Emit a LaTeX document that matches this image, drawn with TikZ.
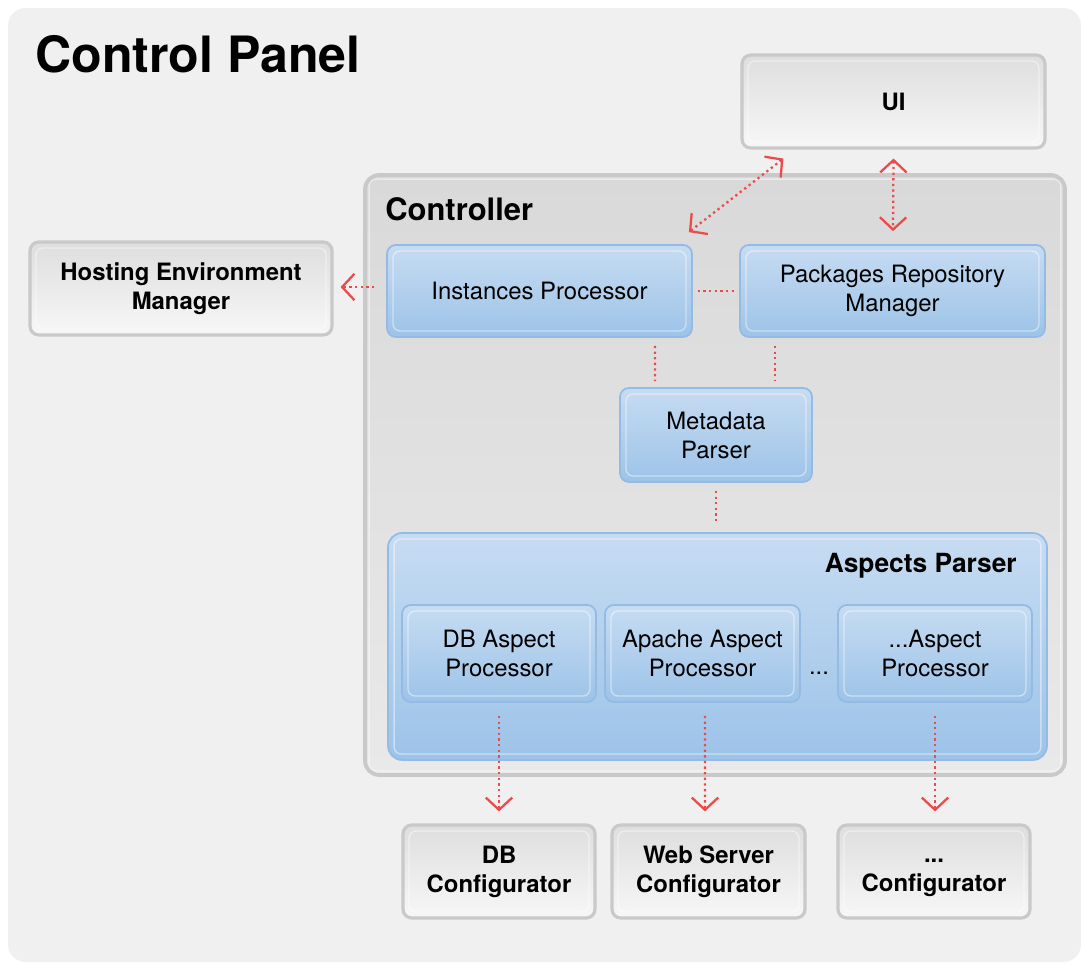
\documentclass[tikz,border=0pt]{standalone}
\usepackage{fontspec}
\setmainfont{TeX Gyre Heros}
\usetikzlibrary{arrows.meta}
\definecolor{panelbg}{HTML}{F0F0F0}
\definecolor{boxline}{HTML}{C9C9C9}
\definecolor{grayA}{HTML}{DEDEDE}
\definecolor{grayB}{HTML}{F7F7F7}
\definecolor{ctrlA}{HTML}{D9D9D9}
\definecolor{ctrlB}{HTML}{E9E9E9}
\definecolor{blueline}{HTML}{93BBE3}
\definecolor{blueA}{HTML}{C6DCF2}
\definecolor{blueB}{HTML}{9DC3E8}
\definecolor{linkred}{HTML}{EC4B4B}

\begin{document}
\begin{tikzpicture}[x=0.02cm,y=-0.02cm,
	inset/.style={path picture={\draw[white,opacity=0.45,line width=0.8pt,rounded corners=4pt] ([shift={(#1,#1)}]path picture bounding box.north west) rectangle ([shift={(-#1,-#1)}]path picture bounding box.south east);}},
	graybox/.style={draw=boxline,line width=1.8pt,rounded corners=5pt,top color=grayA,bottom color=grayB,align=center,inner sep=0pt,font=\fontsize{13.6}{16.5}\selectfont\bfseries,inset=6},
	bluebox/.style={draw=blueline,line width=1pt,rounded corners=5pt,top color=blueA,bottom color=blueB,align=center,inner sep=0pt,font=\fontsize{13.6}{16.5}\selectfont,inset=6},
	heading/.style={inner sep=0pt,font=\fontsize{#1}{#1}\selectfont\bfseries},
	link/.style={draw=linkred,line width=1.3pt,dash pattern=on 1.3pt off 1.9pt},
	tip/.style={{Straight Barb[length=7pt,width=15pt]}-{Straight Barb[length=7pt,width=15pt]}}
]
	\fill[white] (0,0) rectangle (1081,964);
	\fill[panelbg,rounded corners=10pt] (8,8) rectangle (1081,962);
	\node[heading=28.5,anchor=base west] (title) at (35,72) {Control Panel};

	\node[draw=boxline,line width=2.2pt,rounded corners=8pt,top color=ctrlA,bottom color=ctrlB,minimum width=14cm,minimum height=12cm,inset=4] (ctrl) at (715,475) {};
	\node[heading=17.6,anchor=base west] (ctrltitle) at (385,220) {Controller};

	\node[graybox,minimum width=6.06cm,minimum height=1.86cm] (ui) at (893.5,101.5) {UI};
	\node[graybox,minimum width=6.04cm,minimum height=1.86cm] (host) at (181,288.5) {Hosting Environment\\Manager};

	\node[bluebox,minimum width=6.1cm,minimum height=1.84cm] (inst) at (539.5,291) {Instances Processor};
	\node[bluebox,minimum width=6.1cm,minimum height=1.84cm] (pkg) at (892.5,291) {Packages Repository\\Manager};
	\node[bluebox,minimum width=3.84cm,minimum height=1.88cm] (meta) at (716,435) {Metadata\\Parser};

	\node[bluebox,minimum width=13.18cm,minimum height=4.54cm,rounded corners=8pt] (asp) at (717.5,646.5) {};
	\node[heading=15,anchor=base east] (asptitle) at (1017,572) {Aspects Parser};
	\node[bluebox,minimum width=3.88cm,minimum height=1.94cm] (dba) at (499,653.5) {DB Aspect\\Processor};
	\node[bluebox,minimum width=3.9cm,minimum height=1.94cm] (apa) at (702.5,653.5) {Apache Aspect\\Processor};
	\node[bluebox,minimum width=3.88cm,minimum height=1.94cm] (xa) at (935,653.5) {...Aspect\\Processor};
	\node[anchor=base,inner sep=0pt,font=\fontsize{13.6}{16.5}\selectfont] (dots) at (819,674) {...};

	\node[graybox,minimum width=3.84cm,minimum height=1.86cm] (dbc) at (499,871.5) {DB\\Configurator};
	\node[graybox,minimum width=3.86cm,minimum height=1.86cm] (web) at (708.5,871.5) {Web Server\\Configurator};
	\node[graybox,minimum width=3.84cm,minimum height=1.86cm] (xc) at (934,871.5) {\strut...\\Configurator\strut};

	\draw[link,tip] ([shift={(-4,-12)}]inst.north east) -- ([shift={(43,9)}]ui.south west);
	\draw[link,tip] ([shift={(0,9)}]ui.south) -- ([shift={(0.5,-13)}]pkg.north);
	\draw[link,-{Straight Barb[length=7pt,width=15pt]}] ([shift={(-12,-4)}]inst.west) -- ([shift={(7,-1.5)}]host.east);
	\draw[link] ([shift={(5,0)}]inst.east) -- ([shift={(-5,0)}]pkg.west);
	\draw[link] ([shift={(115.5,8)}]inst.south) -- ([shift={(-61,-6)}]meta.north);
	\draw[link] ([shift={(-117.5,8)}]pkg.south) -- ([shift={(59,-6)}]meta.north);
	\draw[link] ([shift={(0,8)}]meta.south) -- ([shift={(-1.5,-8)}]asp.north);
	\draw[link,-{Straight Barb[length=7pt,width=15pt]}] ([shift={(0,13)}]dba.south) -- ([shift={(0,-12)}]dbc.north);
	\draw[link,-{Straight Barb[length=7pt,width=15pt]}] ([shift={(2.5,13)}]apa.south) -- ([shift={(-3.5,-12)}]web.north);
	\draw[link,-{Straight Barb[length=7pt,width=15pt]}] ([shift={(0,13)}]xa.south) -- ([shift={(1,-12)}]xc.north);
\end{tikzpicture}
\end{document}
